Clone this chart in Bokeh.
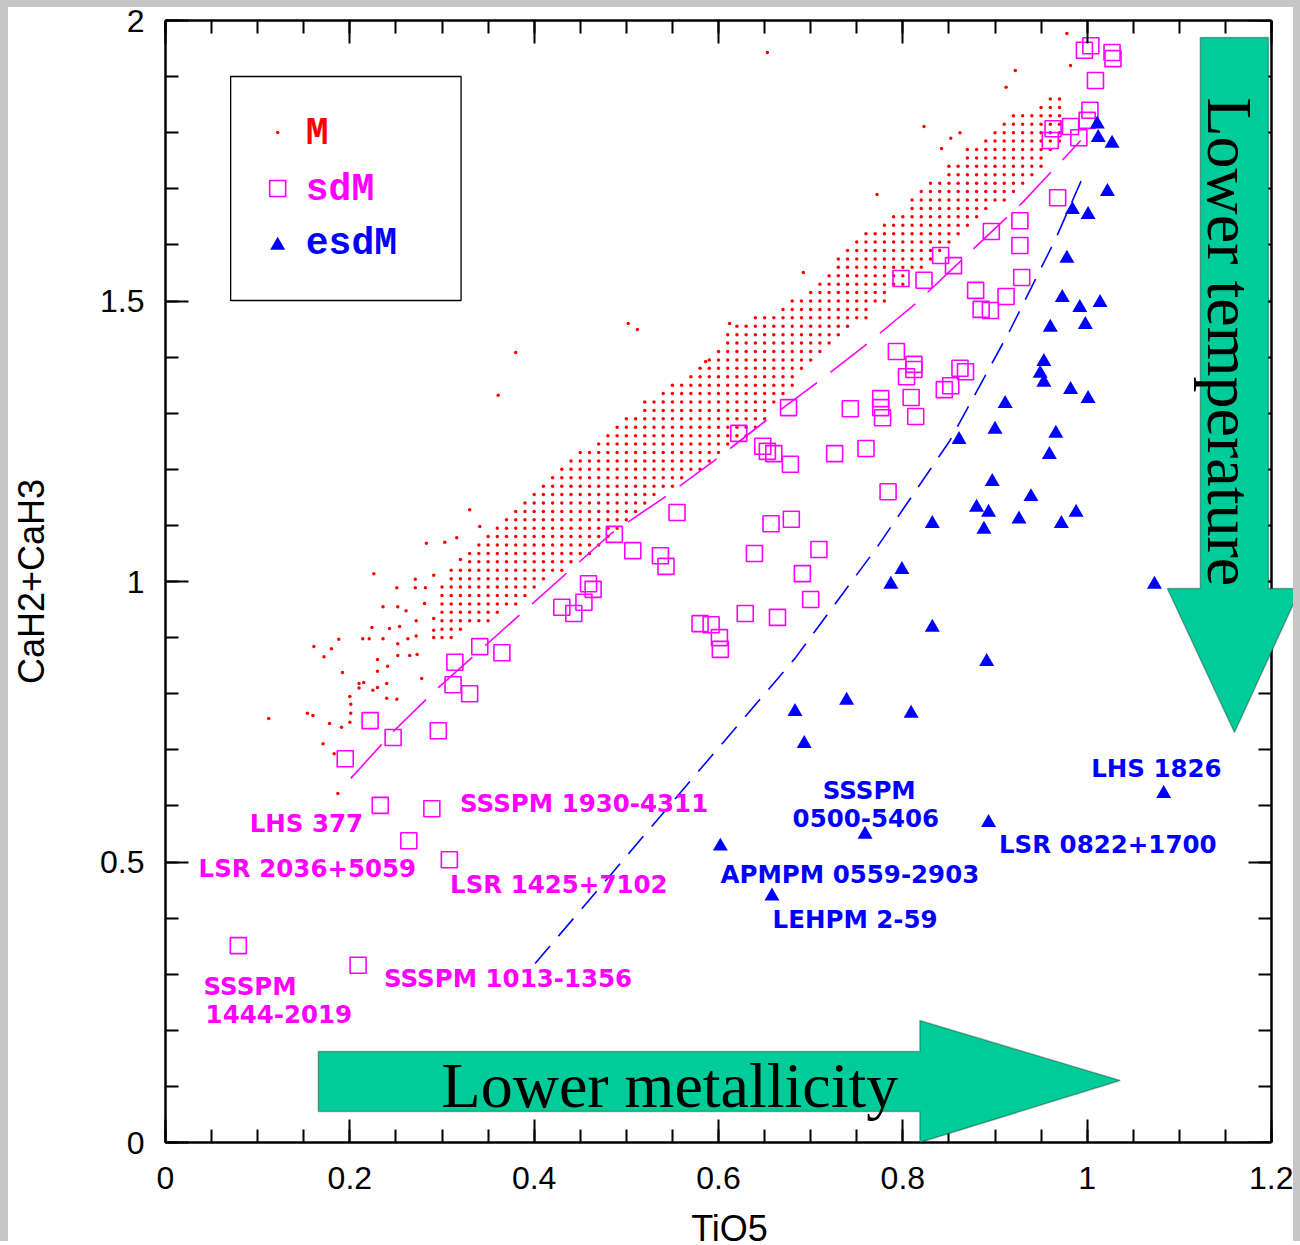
import numpy as np
from bokeh.plotting import figure
from bokeh.models import (LinearAxis, SingleIntervalTicker, CustomJSTickFormatter,
                          PolyAnnotation, Label, Range1d, Div)
from bokeh.layouts import column, row
from bokeh.core.properties import value
from bokeh.embed import file_html
from bokeh.resources import INLINE

# ---------------- data ----------------
# M dwarfs: dense quantised cloud, one column per TiO5 value, with CaH range
m_col_x = [0.30, 0.31, 0.32, 0.33, 0.34, 0.35, 0.36, 0.37, 0.38, 0.39,
           0.40, 0.41, 0.42, 0.43, 0.44, 0.45, 0.46, 0.47, 0.48, 0.49,
           0.50, 0.51, 0.52, 0.53, 0.54, 0.55, 0.56, 0.57, 0.58, 0.59,
           0.60, 0.61, 0.62, 0.63, 0.64, 0.65, 0.66, 0.67, 0.68, 0.69,
           0.70, 0.71, 0.72, 0.73, 0.74, 0.75, 0.76, 0.77, 0.78, 0.79,
           0.80, 0.81, 0.82, 0.83, 0.84, 0.85, 0.86, 0.87, 0.88, 0.89,
           0.90, 0.91, 0.92, 0.93, 0.94, 0.95, 0.96, 0.97]
m_col_lo = [0.90, 0.90, 0.91, 0.92, 0.92, 0.93, 0.94, 0.95, 0.96, 0.97,
            0.99, 1.00, 1.01, 1.02, 1.03, 1.04, 1.04, 1.06, 1.07, 1.09,
            1.10, 1.12, 1.13, 1.15, 1.16, 1.17, 1.18, 1.19, 1.20, 1.21,
            1.22, 1.24, 1.25, 1.26, 1.27, 1.29, 1.31, 1.33, 1.35, 1.37,
            1.39, 1.41, 1.42, 1.44, 1.45, 1.46, 1.47, 1.49, 1.50, 1.52,
            1.53, 1.55, 1.56, 1.57, 1.58, 1.60, 1.61, 1.63, 1.65, 1.66,
            1.67, 1.68, 1.69, 1.71, 1.72, 1.74, 1.76, 1.78]
m_col_hi = [1.00, 1.02, 1.03, 1.05, 1.07, 1.09, 1.10, 1.11, 1.13, 1.14,
            1.16, 1.18, 1.19, 1.21, 1.22, 1.24, 1.24, 1.25, 1.26, 1.28,
            1.29, 1.30, 1.32, 1.33, 1.34, 1.35, 1.36, 1.37, 1.38, 1.40,
            1.42, 1.45, 1.46, 1.46, 1.47, 1.47, 1.48, 1.49, 1.50, 1.51,
            1.52, 1.53, 1.55, 1.58, 1.60, 1.61, 1.62, 1.63, 1.64, 1.65,
            1.66, 1.68, 1.70, 1.71, 1.72, 1.74, 1.75, 1.77, 1.78, 1.79,
            1.80, 1.82, 1.83, 1.84, 1.84, 1.85, 1.86, 1.87]
m_cah_step = 0.015

# M dwarfs outside the dense cloud
m_sparse_x = [0.112, 0.154, 0.160, 0.171, 0.178, 0.183, 0.187, 0.191, 0.200, 0.201,
              0.200, 0.201, 0.161, 0.172, 0.180, 0.188, 0.192, 0.210, 0.210, 0.215,
              0.225, 0.230, 0.240, 0.240, 0.251, 0.214, 0.221, 0.226, 0.224, 0.230,
              0.230, 0.236, 0.236, 0.241, 0.243, 0.251, 0.252, 0.252, 0.254, 0.252,
              0.261, 0.263, 0.265, 0.271, 0.271, 0.272, 0.272, 0.273, 0.278, 0.282,
              0.283, 0.281, 0.291, 0.291, 0.291, 0.291, 0.303, 0.316, 0.320, 0.330,
              0.341, 0.361, 0.380, 0.502, 0.512, 0.586, 0.612, 0.692, 0.653, 0.772,
              0.823, 0.842, 0.852, 0.862, 0.912, 0.922, 0.978, 0.982]
m_sparse_y = [0.756, 0.765, 0.761, 0.711, 0.747, 0.693, 0.622, 0.740, 0.749, 0.765,
              0.795, 0.781, 0.884, 0.866, 0.880, 0.897, 0.838, 0.818, 0.810, 0.820,
              0.806, 0.811, 0.818, 0.792, 0.790, 0.898, 0.898, 1.014, 0.918, 0.861,
              0.840, 0.955, 0.898, 0.849, 0.916, 0.989, 0.955, 0.889, 0.920, 0.868,
              0.948, 0.898, 0.868, 1.004, 0.989, 0.930, 0.903, 0.870, 0.827, 0.989,
              1.068, 0.961, 1.011, 0.934, 0.913, 0.900, 1.070, 1.078, 1.039, 1.128,
              1.098, 1.332, 1.408, 1.460, 1.449, 1.392, 1.460, 1.551, 1.943, 1.690,
              1.811, 1.772, 1.790, 1.800, 1.881, 1.911, 1.977, 1.920]

# subdwarfs (sdM)
sdm_x = [0.195, 0.222, 0.247, 0.296, 0.233, 0.289, 0.264, 0.308, 0.079, 0.209,
         0.314, 0.312, 0.330, 0.341, 0.365, 0.430, 0.443, 0.454, 0.459, 0.464,
         0.487, 0.507, 0.537, 0.543, 0.555, 0.580, 0.592, 0.601, 0.602, 0.629,
         0.639, 0.657, 0.664, 0.679, 0.691, 0.700, 0.709, 0.622, 0.648, 0.653,
         0.660, 0.678, 0.676, 0.726, 0.743, 0.760, 0.776, 0.776, 0.778, 0.784,
         0.793, 0.812, 0.812, 0.804, 0.809, 0.814, 0.845, 0.852, 0.862, 0.868,
         0.798, 0.823, 0.841, 0.855, 0.879, 0.885, 0.895, 0.912, 0.896, 0.927,
         0.927, 0.929, 0.968, 0.960, 0.963, 0.982, 0.991, 1.000, 1.003, 1.009,
         0.997, 1.004, 1.027, 1.028]
sdm_y = [0.684, 0.752, 0.722, 0.734, 0.601, 0.595, 0.538, 0.504, 0.351, 0.316,
         0.856, 0.816, 0.800, 0.884, 0.873, 0.954, 0.943, 0.963, 0.996, 0.986,
         1.084, 1.055, 1.046, 1.027, 1.123, 0.925, 0.923, 0.900, 0.879, 0.943,
         1.050, 1.103, 0.936, 1.111, 1.014, 0.968, 1.057, 1.264, 1.241, 1.232,
         1.228, 1.209, 1.310, 1.228, 1.308, 1.237, 1.326, 1.310, 1.292, 1.160,
         1.410, 1.387, 1.378, 1.365, 1.328, 1.294, 1.342, 1.349, 1.380, 1.374,
         1.540, 1.537, 1.581, 1.563, 1.519, 1.485, 1.483, 1.508, 1.624, 1.643,
         1.599, 1.542, 1.684, 1.786, 1.807, 1.811, 1.791, 1.822, 1.840, 1.893,
         1.947, 1.955, 1.943, 1.932]

# extreme subdwarfs (esdM)
esdm_x = [1.011, 1.012, 1.027, 1.022, 0.984, 1.001, 0.978, 0.973, 0.992, 1.014,
          0.960, 0.998, 0.953, 0.949, 0.953, 0.982, 1.001, 0.911, 0.900, 0.966,
          0.861, 0.959, 0.897, 0.939, 0.880, 0.893, 0.926, 0.988, 0.972, 0.888,
          0.832, 0.799, 0.787, 1.073, 0.832, 0.891, 0.809, 0.683, 0.693, 0.739,
          0.602, 0.759, 0.893, 1.083, 0.658]
esdm_y = [1.815, 1.791, 1.781, 1.695, 1.663, 1.654, 1.576, 1.506, 1.488, 1.497,
          1.453, 1.458, 1.392, 1.371, 1.355, 1.342, 1.326, 1.317, 1.271, 1.264,
          1.253, 1.226, 1.178, 1.151, 1.132, 1.123, 1.111, 1.123, 1.103, 1.093,
          1.103, 1.021, 0.995, 0.995, 0.918, 0.857, 0.765, 0.768, 0.711, 0.788,
          0.528, 0.549, 0.570, 0.622, 0.439]

# sequence fits
sd_fit_x = [0.201, 0.248, 0.296, 0.386, 0.484, 0.544, 0.600, 0.654, 0.709,
            0.763, 0.815, 0.878, 0.929, 0.993]
sd_fit_y = [0.649, 0.734, 0.811, 0.943, 1.086, 1.153, 1.221, 1.290, 1.357,
            1.426, 1.497, 1.595, 1.674, 1.786]
esd_fit_x = [0.401, 0.487, 0.579, 0.683, 0.772, 0.851, 0.916, 0.965, 0.997]
esd_fit_y = [0.319, 0.485, 0.663, 0.863, 1.061, 1.251, 1.447, 1.608, 1.727]

# named objects
sd_names = ["LHS 377", "SSSPM 1930-4311", "LSR 2036+5059", "LSR 1425+7102",
            "SSSPM", "1444-2019", "SSSPM 1013-1356"]
sd_name_x = [0.0913, 0.3196, 0.0359, 0.3087, 0.0413, 0.0435, 0.2370]
sd_name_y = [0.5686, 0.6043, 0.4884, 0.4599, 0.2781, 0.2282, 0.2923]
esd_names = ["SSSPM", "0500-5406", "LHS 1826", "LSR 0822+1700",
             "APMPM 0559-2903", "LEHPM 2-59"]
esd_name_x = [0.7130, 0.6804, 1.0043, 0.9043, 0.6022, 0.6587]
esd_name_y = [0.6275, 0.5793, 0.6667, 0.5312, 0.4777, 0.3975]

legend_labels = ["M", "sdM", "esdM"]
tick_x_interval = 0.2
tick_y_interval = 0.5

# ---------------- build dense cloud ----------------
mx, my = [], []
for cx, lo, hi in zip(m_col_x, m_col_lo, m_col_hi):
    k0 = int(np.ceil(lo / m_cah_step - 1e-9))
    k1 = int(np.floor(hi / m_cah_step + 1e-9))
    for k in range(k0, k1 + 1):
        mx.append(cx)
        my.append(round(k * m_cah_step, 4))
mx += m_sparse_x
my += m_sparse_y

RED = "#ff0000"
MAG = "#ff00ff"
BLUE = "#0000ff"
GREEN = "#00cc99"
GRAY = "#c6c6c6"

PX_PER_X = 1106 / 1.2
X_END = 1.2 + 22 / PX_PER_X   # frame extended so that the arrow head is not clipped

p = figure(frame_width=1128, frame_height=1122,
           x_range=Range1d(0, X_END), y_range=Range1d(0, 2),
           output_backend="svg", toolbar_location=None,
           min_border_left=157, min_border_top=13, min_border_right=0,
           min_border_bottom=99, x_axis_label="TiO5", y_axis_label="CaH2+CaH3")
p.xgrid.visible = False
p.ygrid.visible = False
p.outline_line_color = None

fmt = CustomJSTickFormatter(code="return (Math.round(tick*100)/100).toString();")
blank = CustomJSTickFormatter(code="return '';")

def style(ax, show):
    ax.axis_line_width = 2.5
    ax.axis_line_color = "black"
    ax.major_tick_in = 23
    ax.major_tick_out = 0
    ax.minor_tick_in = 13
    ax.minor_tick_out = 0
    ax.major_tick_line_width = 2
    ax.minor_tick_line_width = 2
    ax.major_tick_line_color = "black"
    ax.minor_tick_line_color = "black"
    if show:
        ax.formatter = fmt
        ax.major_label_text_font = "Liberation Sans"
        ax.major_label_text_font_size = "32px"
        ax.major_label_text_color = "black"
        ax.axis_label_text_font = "Liberation Sans"
        ax.axis_label_text_font_size = "36px"
        ax.axis_label_text_font_style = "normal"
        ax.axis_label_text_color = "black"
    else:
        ax.formatter = blank
        ax.major_label_standoff = 0

xb = p.xaxis[0]
yl = p.yaxis[0]
xb.ticker = SingleIntervalTicker(interval=tick_x_interval, num_minor_ticks=4)
yl.ticker = SingleIntervalTicker(interval=tick_y_interval, num_minor_ticks=5)
style(xb, True)
style(yl, True)
xb.bounds = (0, 1.2001)
xb.major_label_standoff = 24
xb.axis_label_standoff = 16
yl.major_label_standoff = 21
yl.axis_label_standoff = 45

xt = LinearAxis(ticker=SingleIntervalTicker(interval=tick_x_interval, num_minor_ticks=4),
                bounds=(0, 1.2001))
yr = LinearAxis(ticker=SingleIntervalTicker(interval=tick_y_interval, num_minor_ticks=5),
                fixed_location=1.2)
style(xt, False)
style(yr, False)
p.add_layout(xt, "above")
p.add_layout(yr, "right")

# legend box
p.quad(left=[0.0707], right=[0.3207], bottom=[1.5009], top=[1.9002],
       fill_color="white", line_color="black", line_width=1.3)

# data
p.scatter(mx, my, marker="circle", size=3.5, fill_color=RED, line_color=None)
p.line(sd_fit_x, sd_fit_y, line_color=MAG, line_width=1.6, line_dash="46 17")
p.line(esd_fit_x, esd_fit_y, line_color=BLUE, line_width=1.6, line_dash="23 13")
p.scatter(sdm_x, sdm_y, marker="square", size=16, fill_color=None,
          line_color=MAG, line_width=1.6)
p.scatter(esdm_x, esdm_y, marker="triangle", size=15, fill_color=BLUE,
          line_color=None)

# labels of named objects
p.text(x=sd_name_x, y=sd_name_y, text=sd_names, text_font=value("DejaVu Sans"),
       text_font_style="bold", text_font_size="24.5px", text_color=MAG,
       text_baseline="middle", text_align="left")
p.text(x=esd_name_x, y=esd_name_y, text=esd_names, text_font=value("DejaVu Sans"),
       text_font_style="bold", text_font_size="24.5px", text_color=BLUE,
       text_baseline="middle", text_align="left")

# legend entries
leg_mx = 0.1217
leg_y = [1.8003, 1.7005, 1.599]
leg_ty = [1.7986, 1.6988, 1.6025]
p.scatter([leg_mx], [leg_y[0]], marker="circle", size=3.5, fill_color=RED, line_color=None)
p.scatter([leg_mx], [leg_y[1]], marker="square", size=16, fill_color=None,
          line_color=MAG, line_width=1.6)
p.scatter([leg_mx], [leg_y[2]], marker="triangle", size=15, fill_color=BLUE, line_color=None)
p.text(x=[0.1522] * 3, y=leg_ty, text=legend_labels, text_font=value("Liberation Mono"),
       text_font_style="bold", text_font_size="38px", text_color=[RED, MAG, BLUE],
       text_baseline="middle", text_align="left")

# big arrows
h_arrow = PolyAnnotation(
    xs=[0.1658, 0.8185, 0.8185, 1.0359, 0.8185, 0.8185, 0.1658],
    ys=[0.0553, 0.0553, 0.0, 0.1105, 0.2175, 0.1622, 0.1622],
    fill_color=GREEN, fill_alpha=1.0, line_color="black", line_width=1.5)
v_arrow = PolyAnnotation(
    xs=[1.1228, 1.1967, 1.1967, 1.2315, 1.1598, 1.0870, 1.1228],
    ys=[1.9697, 1.9697, 0.9875, 0.9875, 0.7308, 0.9875, 0.9875],
    fill_color=GREEN, fill_alpha=1.0, line_color="black", line_width=1.5)
p.add_layout(h_arrow)
p.add_layout(v_arrow)
p.add_layout(Label(x=0.5473, y=0.1016, text="Lower metallicity",
                   text_font="Liberation Serif", text_font_size="64px",
                   text_color="black", text_align="center", text_baseline="middle"))
p.add_layout(Label(x=1.1543, y=1.8627, text="Lower temperature", angle=-np.pi / 2,
                   text_font="Liberation Serif", text_font_size="64px",
                   text_color="black", text_align="left", text_baseline="middle"))


def gdiv(w, h):
    return Div(width=w, height=h, margin=0, styles={"background-color": GRAY})


page = column(gdiv(1300, 7),
              row(gdiv(8, 1234), p, gdiv(7, 1234), spacing=0),
              gdiv(1300, 4), spacing=0)

open("out.html", "w").write(file_html(page, INLINE))
